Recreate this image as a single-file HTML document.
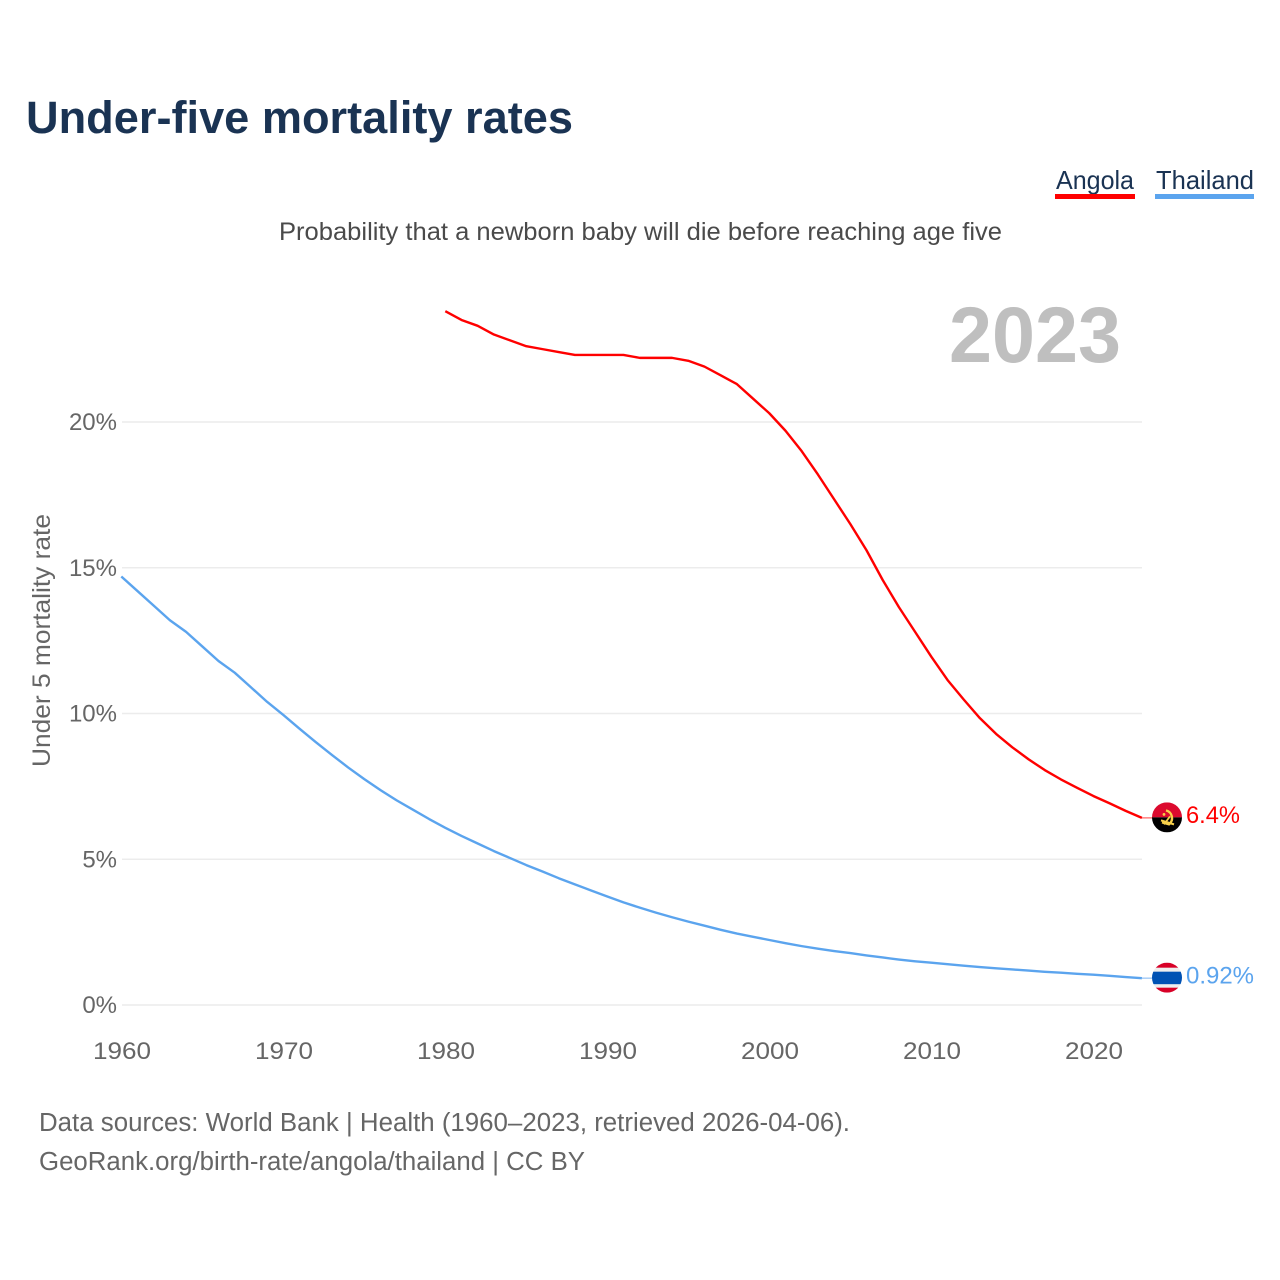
<!DOCTYPE html>
<html lang="en">
<head>
<meta charset="utf-8">
<title>Under-five mortality rates</title>
<style>
html,body{margin:0;padding:0;background:#fff;}
svg{display:block;font-family:"Liberation Sans",sans-serif;}
</style>
</head>
<body>
<svg id="chart" width="1280" height="1280" viewBox="0 0 1280 1280" xmlns="http://www.w3.org/2000/svg">
  <rect x="0" y="0" width="1280" height="1280" fill="#fff"/>
  <text x="26" y="133" font-size="45" font-weight="700" fill="#1a3353" textLength="547" lengthAdjust="spacingAndGlyphs">Under-five mortality rates</text>
  <g>
    <text x="1056" y="189" font-size="26" fill="#1a3353" textLength="78" lengthAdjust="spacingAndGlyphs">Angola</text>
    <rect x="1055" y="194" width="80" height="5" fill="#ff0000"/>
  </g>
  <g>
    <text x="1156" y="189" font-size="26" fill="#1a3353" textLength="98" lengthAdjust="spacingAndGlyphs">Thailand</text>
    <rect x="1155" y="194" width="99" height="5" fill="#5ba4ee"/>
  </g>
  <text x="279" y="240" font-size="25" fill="#4a4a4a" textLength="723" lengthAdjust="spacingAndGlyphs">Probability that a newborn baby will die before reaching age five</text>
  <text x="949" y="362" font-size="79" font-weight="700" fill="#bfbfbf" textLength="172" lengthAdjust="spacingAndGlyphs">2023</text>
  <text transform="translate(50 767) rotate(-90)" x="0" y="0" font-size="25" fill="#666" textLength="253" lengthAdjust="spacingAndGlyphs">Under 5 mortality rate</text>
  <g id="grid"></g>
  <g id="yTicks"></g>
  <g id="xTicks"></g>
  <g id="lines"></g>
  <defs>
    <clipPath id="clipAngola"><circle id="clipAngolaCircle" r="15"/></clipPath>
    <clipPath id="clipThailand"><circle id="clipThailandCircle" r="15"/></clipPath>
  </defs>
  <g id="flagAngola"></g>
  <g id="flagThailand"></g>
  <g id="endLabels"></g>
  <text x="39" y="1131" font-size="25.5" fill="#666" textLength="811" lengthAdjust="spacingAndGlyphs">Data sources: World Bank | Health (1960–2023, retrieved 2026-04-06).</text>
  <text x="39" y="1170" font-size="25.5" fill="#666" textLength="546" lengthAdjust="spacingAndGlyphs">GeoRank.org/birth-rate/angola/thailand | CC BY</text>
</svg>
<script>
var yearsThailandStart = 1960;
var yearsAngolaStart = 1980;
var xTickValues = [1960, 1970, 1980, 1990, 2000, 2010, 2020];
var yTickValues = [0, 5, 10, 15, 20];
var angolaValues = [23.8, 23.5, 23.3, 23.0, 22.8, 22.6, 22.5, 22.4, 22.3, 22.3, 22.3, 22.3, 22.2, 22.2, 22.2, 22.1, 21.9, 21.6, 21.3, 20.8, 20.3, 19.7, 19.0, 18.2, 17.35, 16.5, 15.6, 14.58, 13.65, 12.8, 11.95, 11.15, 10.48, 9.84, 9.3, 8.84, 8.43, 8.06, 7.74, 7.45, 7.17, 6.92, 6.66, 6.42];
var thailandValues = [14.7, 14.2, 13.7, 13.2, 12.8, 12.3, 11.8, 11.4, 10.9, 10.4, 9.95, 9.48, 9.02, 8.58, 8.15, 7.75, 7.37, 7.02, 6.7, 6.38, 6.08, 5.8, 5.54, 5.28, 5.04, 4.8, 4.58, 4.35, 4.14, 3.93, 3.72, 3.52, 3.34, 3.17, 3.01, 2.86, 2.72, 2.58, 2.45, 2.34, 2.23, 2.12, 2.02, 1.93, 1.85, 1.78, 1.7, 1.63, 1.56, 1.5, 1.45, 1.4, 1.35, 1.3, 1.26, 1.22, 1.18, 1.14, 1.11, 1.07, 1.04, 1.0, 0.96, 0.92];
var endLabelAngola = "6.4%";
var endLabelThailand = "0.92%";

var NS = "http://www.w3.org/2000/svg";
function xScale(year) { return 121.3 + (year - 1960) * 16.2; }
function yScale(v) { return 1005 - v * 29.15; }
function make(tag, attrs, parent) {
  var el = document.createElementNS(NS, tag);
  for (var k in attrs) { el.setAttribute(k, attrs[k]); }
  parent.appendChild(el);
  return el;
}

var grid = document.getElementById("grid");
var yTicksGroup = document.getElementById("yTicks");
yTickValues.forEach(function (v) {
  var line = make("line", { x1: 122, x2: 1142, y1: yScale(v), y2: yScale(v), stroke: "#ececec", "stroke-width": 1.5 }, grid);
  
  
  var t = make("text", { x: 117, y: yScale(v) + 8, "text-anchor": "end", "font-size": 24, fill: "#666" }, yTicksGroup);
  
  
  t.textContent = v + "%";
});

var xTicksGroup = document.getElementById("xTicks");
xTickValues.forEach(function (yr) {
  var t = make("text", { x: xScale(yr) - 28.3, y: 1059, "font-size": 24.5, fill: "#666", textLength: 58, lengthAdjust: "spacingAndGlyphs" }, xTicksGroup);
  
  
  t.textContent = yr;
});

function pathFor(values, startYear) {
  return values.map(function (v, i) {
    return (i ? "L" : "M") + xScale(startYear + i).toFixed(2) + " " + yScale(v).toFixed(2);
  }).join(" ");
}
var lines = document.getElementById("lines");
var angolaLine = make("path", { d: pathFor(angolaValues, yearsAngolaStart), fill: "none", stroke: "#ff0000", "stroke-width": 2.4, "stroke-linejoin": "round" }, lines);


var thailandLine = make("path", { d: pathFor(thailandValues, yearsThailandStart), fill: "none", stroke: "#5ba4ee", "stroke-width": 2.4, "stroke-linejoin": "round" }, lines);



var lastAngolaY = yScale(angolaValues[angolaValues.length - 1]);
var lastThailandY = yScale(thailandValues[thailandValues.length - 1]);
var flagX = 1167;

var connA = make("line", { x1: 1142, x2: 1153, y1: lastAngolaY, y2: lastAngolaY, stroke: "#ff8080", "stroke-width": 1.5 }, lines);


var connT = make("line", { x1: 1142, x2: 1153, y1: lastThailandY, y2: lastThailandY, stroke: "#a9cdf5", "stroke-width": 1.5 }, lines);



/* Angola flag */
var ca = lastAngolaY - 0.5;
var cc = document.getElementById("clipAngolaCircle");
cc.setAttribute("cx", flagX); cc.setAttribute("cy", ca);
var fa = document.getElementById("flagAngola");
fa.setAttribute("clip-path", "url(#clipAngola)");
make("rect", { x: flagX - 15, y: ca - 15, width: 30, height: 15, fill: "#dc0a2e" }, fa);
make("rect", { x: flagX - 15, y: ca, width: 30, height: 15, fill: "#000" }, fa);
make("path", { d: "M" + (flagX - 1) + " " + (ca - 7) + " A8 8 0 0 1 " + (flagX + 2) + " " + (ca + 7) + " L" + (flagX - 5) + " " + (ca + 5), fill: "none", stroke: "#f7d04a", "stroke-width": 2.4 }, fa);
make("line", { x1: flagX - 6, y1: ca + 3, x2: flagX + 7, y2: ca + 7, stroke: "#f7d04a", "stroke-width": 2 }, fa);
make("line", { x1: flagX - 3, y1: ca + 7, x2: flagX + 3, y2: ca - 1, stroke: "#f7d04a", "stroke-width": 1.8 }, fa);
make("circle", { cx: flagX - 3, cy: ca - 3, r: 1.4, fill: "#f7d04a" }, fa);

/* Thailand flag */
var ct = lastThailandY - 0.5;
var cd = document.getElementById("clipThailandCircle");
cd.setAttribute("cx", flagX); cd.setAttribute("cy", ct);
var ft = document.getElementById("flagThailand");
ft.setAttribute("clip-path", "url(#clipThailand)");
make("rect", { x: flagX - 15, y: ct - 15, width: 30, height: 30, fill: "#eee" }, ft);
make("rect", { x: flagX - 15, y: ct - 15, width: 30, height: 5, fill: "#d80027" }, ft);
make("rect", { x: flagX - 15, y: ct + 10, width: 30, height: 5, fill: "#d80027" }, ft);
make("rect", { x: flagX - 15, y: ct - 6, width: 30, height: 12.5, fill: "#0052b4" }, ft);

/* End labels */
var endGroup = document.getElementById("endLabels");
var la = make("text", { x: 1186, y: lastAngolaY + 5, "font-size": 24.5, fill: "#ff0000", textLength: 54, lengthAdjust: "spacingAndGlyphs" }, endGroup);


la.textContent = endLabelAngola;
var lt = make("text", { x: 1186, y: lastThailandY + 5.5, "font-size": 24.5, fill: "#5ba4ee", textLength: 68, lengthAdjust: "spacingAndGlyphs" }, endGroup);


lt.textContent = endLabelThailand;
</script>
</body>
</html>
